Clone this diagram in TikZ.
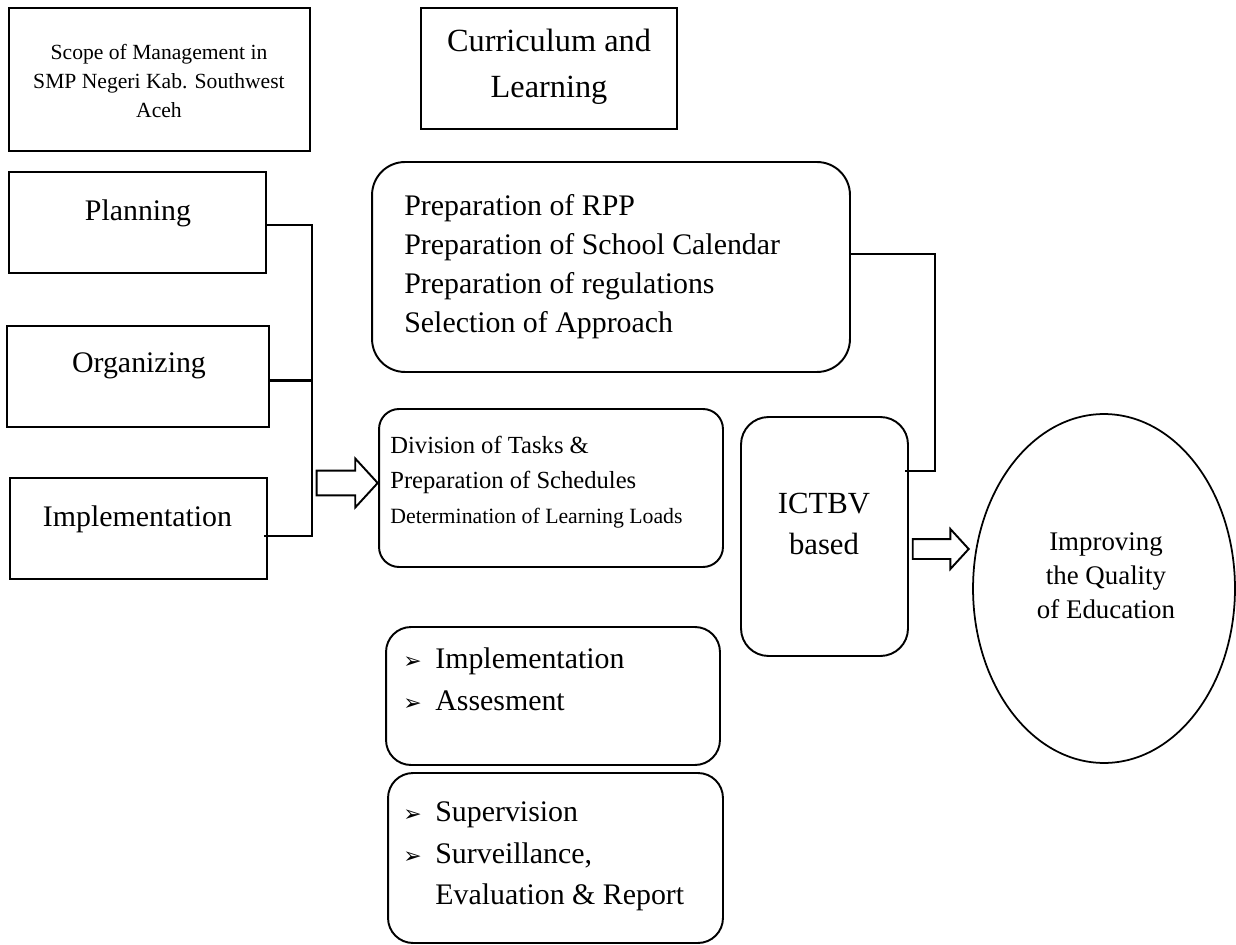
\documentclass[tikz,border=0pt]{standalone}
\usepackage{fontspec}
\setmainfont{Liberation Serif}
\newfontfamily\dingfont{DejaVu Sans}
\usetikzlibrary{shapes.geometric,shapes.arrows}

\newcommand{\itembullet}{\makebox[0.64cm][l]{\dingfont\fontsize{12.5}{12.5}\selectfont ➢}}

\tikzset{
  box/.style={draw, line width=1.3pt, inner sep=0pt},
  rbox/.style={box, line width=1.1pt, rounded corners=#1},
  rbox/.default=0.5cm,
  goalshape/.style={draw, ellipse, line width=1pt, inner sep=0pt},
  link/.style={line width=1.3pt},
  fatarrow/.style={draw, single arrow, fill=white, line width=1.1pt,
    inner xsep=0pt, single arrow tip angle=95},
  txt/.style={inner sep=0pt, align=center},
}

\begin{document}
\begin{tikzpicture}[x=0.02cm,y=-0.02cm]
  \useasboundingbox (0,0) rectangle (1236,945);

  % left column: headings and management functions
  \node[box, minimum width=6.02cm, minimum height=2.86cm] (scope) at (159.5,79.5) {};
  \node[box, minimum width=5.12cm, minimum height=2.42cm] (curr) at (549,68.5) {};
  \node[box, minimum width=5.14cm, minimum height=2.02cm] (plan) at (137.5,222.5) {};
  \node[box, minimum width=5.24cm, minimum height=2.02cm] (org) at (138,376.5) {};
  \node[box, minimum width=5.14cm, minimum height=2.02cm] (impl) at (138.5,528.5) {};

  \node[txt, font=\fontsize{12.3}{16.4}\selectfont] (scopetxt) at (159,81)
    {Scope of Management in\\SMP Negeri Kab. Southwest\\Aceh};
  \node[txt, font=\fontsize{18.4}{26}\selectfont] (currtxt) at (549,67)
    {Curriculum and\\Learning};
  \node[txt, font=\fontsize{17}{22}\selectfont] (plantxt) at (138,213) {Planning};
  \node[txt, font=\fontsize{17}{22}\selectfont] (orgtxt) at (139,366) {Organizing};
  \node[txt, font=\fontsize{17}{22}\selectfont] (impltxt) at (137.5,519) {Implementation};

  % middle column
  \node[rbox=0.66cm, minimum width=9.56cm, minimum height=4.2cm] (rpp) at (611,267) {};
  \node[rbox=0.4cm, minimum width=6.88cm, minimum height=3.16cm] (divn) at (551,488) {};
  \node[rbox, minimum width=6.68cm, minimum height=2.76cm] (eval) at (553,696) {};
  \node[rbox, minimum width=6.70cm, minimum height=3.4cm] (superv) at (555.5,858) {};

  \node[txt, align=left, anchor=west, font=\fontsize{17}{22.1}\selectfont] (rpptxt) at (404,266.5)
    {Preparation of RPP\\Preparation of School Calendar\\Preparation of regulations\\Selection of Approach};
  \node[txt, align=left, anchor=west, font=\fontsize{14}{20}\selectfont] (divntxt) at (390,482.5)
    {Division of Tasks \&\\Preparation of Schedules\\{\fontsize{12.4}{20}\selectfont Determination of Learning Loads}};
  \node[txt, align=left, anchor=west, font=\fontsize{17}{23.8}\selectfont] (evaltxt) at (403,679)
    {\itembullet Implementation\\\itembullet Assesment};
  \node[txt, align=left, anchor=west, font=\fontsize{17}{23.5}\selectfont] (supervtxt) at (403,856.5)
    {\itembullet Supervision\\\itembullet Surveillance,\\\hspace*{0.64cm}Evaluation \& Report};

  % right column
  \node[rbox=0.55cm, minimum width=3.34cm, minimum height=4.78cm] (ictbv) at (824.5,536.5) {};
  \node[goalshape, minimum width=5.24cm, minimum height=6.98cm] (goal) at (1104,588.5) {};

  \node[txt, font=\fontsize{17.5}{23.8}\selectfont] (ictbvtxt) at (824,524) {ICTBV\\based};
  \node[txt, font=\fontsize{15.3}{19.3}\selectfont] (goaltxt) at (1106,576)
    {Improving\\the Quality\\of Education};

  % connectors
  \coordinate (bustop) at (312,225);
  \coordinate (busbot) at (312,536);
  \coordinate (ictjoin) at (935,471);
  \draw[link] (plan.east |- bustop) -- (bustop) -- (busbot) -- ([xshift=-0.08cm]impl.east |- busbot);
  \draw[link] ([yshift=-0.08cm]org.east) -- ([yshift=-0.08cm]org.east -| bustop);
  \draw[link] ([yshift=0.26cm]rpp.east) -| (ictjoin) -- ([xshift=-0.08cm]ictbv.east |- ictjoin);

  \node[fatarrow, minimum height=1.22cm, inner ysep=0.23cm, single arrow head extend=0.24cm,
    anchor=tip] (push) at (379,483) {};
  \node[fatarrow, minimum height=1.12cm, inner ysep=0.18cm, single arrow head extend=0.2cm,
    anchor=tip] (push2) at (970,549) {};
\end{tikzpicture}
\end{document}
